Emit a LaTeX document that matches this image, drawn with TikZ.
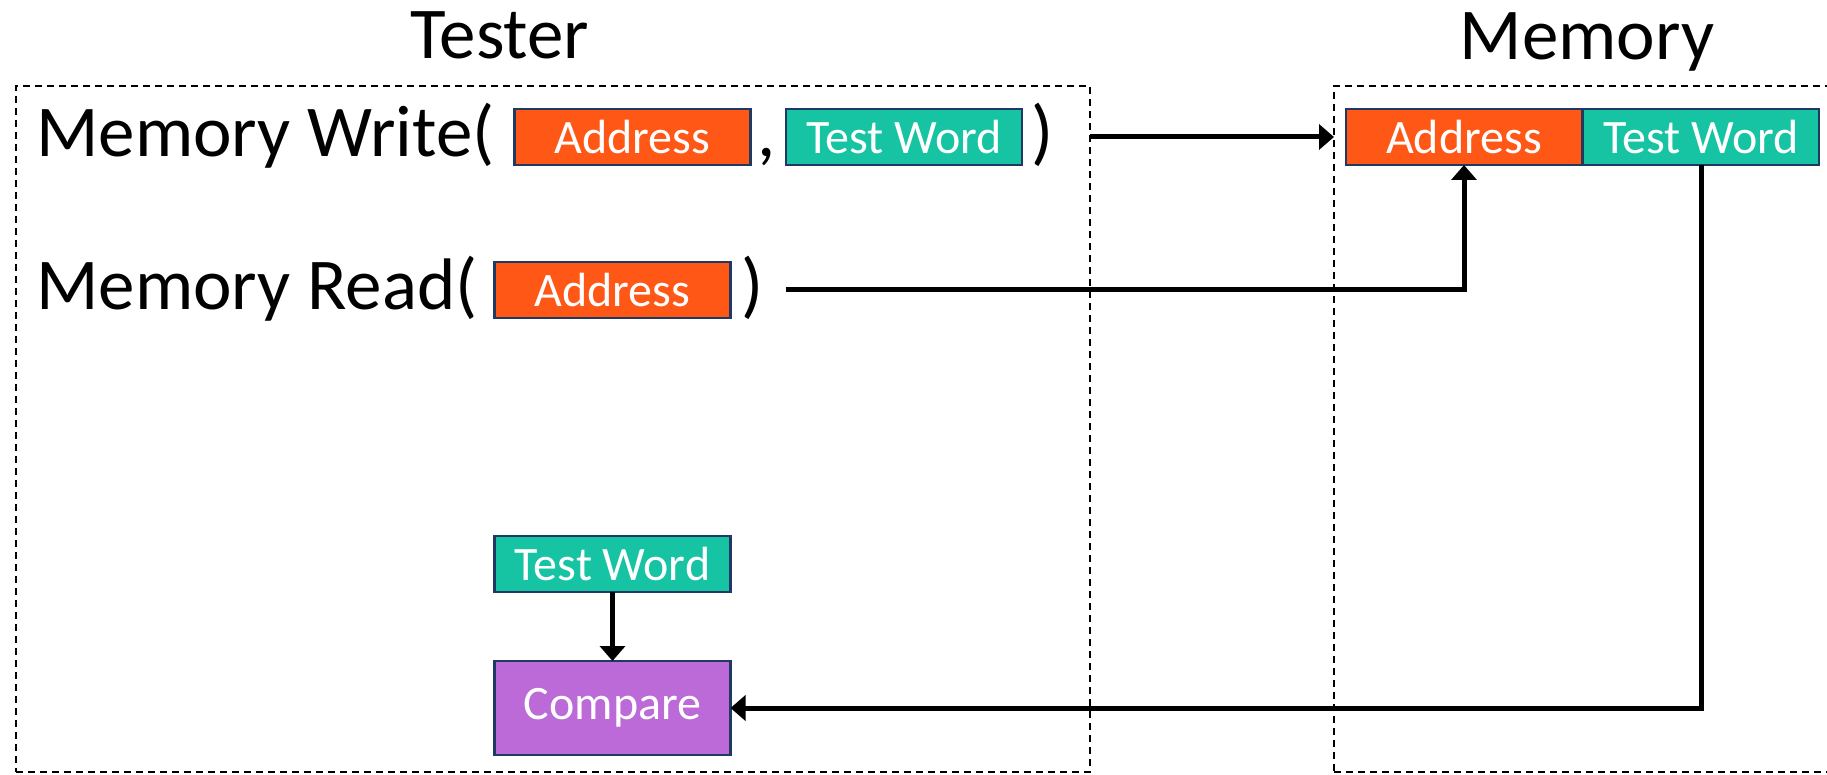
\documentclass[tikz,border=0pt]{standalone}
\usepackage{fontspec}
\setmainfont{Carlito}
\usetikzlibrary{arrows.meta}
\definecolor{addrorange}{RGB}{255,87,22}
\definecolor{wordteal}{RGB}{22,196,163}
\definecolor{cmppurple}{RGB}{188,106,216}
\definecolor{edge}{RGB}{31,56,100}
\begin{document}
\begin{tikzpicture}[x=0.5pt,y=-0.5pt,
    cell/.style = {rectangle,draw=edge,line width=1.3pt,minimum width=118pt,minimum height=28pt,inner sep=0pt,outer sep=0pt,text=white,font=\fontsize{24}{28}\selectfont},
    addr/.style = {cell,fill=addrorange},
    word/.style = {cell,fill=wordteal},
    big/.style = {inner sep=0pt,font=\fontsize{36.5}{44}\selectfont},
    zone/.style = {rectangle,draw,line width=1.15pt,dash pattern=on 3.5pt off 2.5pt,inner sep=0pt,outer sep=0pt},
    link/.style = {line width=2.5pt,-{Triangle[length=7.5pt,width=12.5pt]}}]
\clip (0,0) rectangle (1827,775);
\node[zone,minimum width=537pt,minimum height=343pt] (tester) at (553,429) {};
\node[zone,minimum width=253pt,minimum height=343pt] (memory) at (1587,429) {};
\node[big,anchor=base] (testertitle) at (500,59) {Tester};
\node[big,anchor=base] (memorytitle) at (1587,60) {Memory};
\node[big,anchor=base west] (wopen) at (36,157) {Memory Write(};
\node[addr] (waddr) at (632.5,137) {Address};
\node[big,anchor=base west] (wcomma) at (757,157) {,};
\node[word] (wword) at (904,137) {Test Word};
\node[big,anchor=base west] (wclose) at (1031,157) {)};
\node[big,anchor=base west] (ropen) at (36,310) {Memory Read(};
\node[addr] (raddr) at (612.5,290) {Address};
\node[big,anchor=base west] (rclose) at (741,310) {)};
\node[word] (tword) at (612.5,564) {Test Word};
\node[cell,fill=cmppurple,minimum height=47pt] (cmp) at (612.5,708) {Compare};
\node[addr] (maddr) at (1464,137) {Address};
\node[word] (mword) at (1701,137) {Test Word};
\draw[link] (tester.east |- wword) -- (memory.west |- wword);
\draw[link,shorten <=27.5pt] (raddr.east) -| (maddr.south);
\draw[link] (mword.south) |- (cmp.east);
\draw[link] (tword) -- (cmp);
\end{tikzpicture}
\end{document}
